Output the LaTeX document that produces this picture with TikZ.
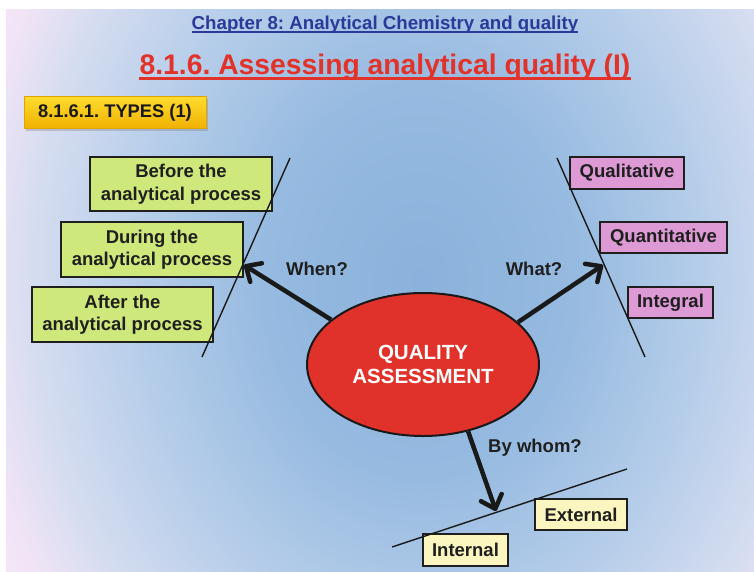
\documentclass[tikz,border=0pt]{standalone}
\usepackage{fontspec}
\setmainfont{Liberation Sans}
\usetikzlibrary{arrows.meta,shapes.geometric,shadows}
\definecolor{bgA}{HTML}{8BB2DC}
\definecolor{bgB}{HTML}{96BAE0}
\definecolor{bgC}{HTML}{B7CEEA}
\definecolor{bgD}{HTML}{D4DCF0}
\definecolor{bgE}{HTML}{F1E4F6}
\definecolor{bgF}{HTML}{F6E6F7}
\definecolor{chapblue}{HTML}{2B3A98}
\definecolor{titlered}{HTML}{E2332A}
\definecolor{ellred}{HTML}{E0322A}
\definecolor{boxgreen}{HTML}{CFE87C}
\definecolor{boxpink}{HTML}{DD9AD5}
\definecolor{boxyellow}{HTML}{FBF6C0}
\definecolor{goldtop}{HTML}{FCDC2E}
\definecolor{goldbot}{HTML}{F0B000}
\definecolor{goldedge}{HTML}{E2A400}
\pgfdeclareradialshading{bgshade}{\pgfpoint{0bp}{0bp}}{color(0bp)=(bgA); color(8bp)=(bgB); color(15bp)=(bgC); color(20bp)=(bgD); color(23.5bp)=(bgE); color(25bp)=(bgF); color(50bp)=(bgF)}
\frenchspacing
\begin{document}
\begin{tikzpicture}[x=1pt,y=-1pt,
  lbl/.style={font=\bfseries\fontsize{18.5}{22.5}\selectfont, text=black!88, inner sep=0pt, align=center},
  catbox/.style={lbl, draw=black!88, line width=1.6pt},
  greenbox/.style={catbox, fill=boxgreen},
  pinkbox/.style={catbox, fill=boxpink},
  yellowbox/.style={catbox, fill=boxyellow},
  axisline/.style={line width=1.4pt, black!90},
  arr/.style={line width=4.5pt, black!90, -{Straight Barb[length=12pt,width=22pt,line width=4.5pt,round]}},
  qlabel/.style={lbl, anchor=base}
]
\useasboundingbox (0,0) rectangle (754,572);
\fill[white] (0,0) rectangle (754,572);
\begin{scope}
  \clip (6,10) rectangle (754,572);
  \shade[shading=bgshade] (-60,-320) rectangle (900,880);
\end{scope}

% headings
\node[anchor=base, inner sep=0pt, text=chapblue, font=\bfseries\fontsize{18.7}{22}\selectfont] (chap) at (385,29.5) {Chapter 8: Analytical Chemistry and quality};
\draw[chapblue, line width=1.5pt] ([yshift=-2.5pt]chap.base west) -- ([yshift=-2.5pt]chap.base east);
\node[anchor=base, inner sep=0pt, text=titlered, font=\bfseries\fontsize{28.3}{34}\selectfont] (title) at (385,75) {8.1.6. Assessing analytical quality (I)};
\draw[titlered, line width=2.6pt] ([yshift=-3.5pt]title.base west) -- ([yshift=-3.5pt]title.base east);

\node[draw=goldedge, line width=1pt, top color=goldtop, bottom color=goldbot, minimum width=182pt, minimum height=32pt, inner sep=0pt,
      drop shadow={shadow xshift=2pt, shadow yshift=-2pt, opacity=0.35},
      font=\bfseries\fontsize{18.3}{22}\selectfont, text=black!90] (types) at (115,113) {8.1.6.1. TYPES (1)};

% central ellipse
\node[ellipse, draw=black!90, line width=2pt, fill=ellred, minimum width=232pt, minimum height=143pt, inner sep=0pt,
      align=center, text=white, font=\bfseries\fontsize{20.5}{24.5}\selectfont] (q) at (423,364.5) {QUALITY\\ASSESSMENT};

% When? boxes
\node[greenbox, minimum width=182pt, minimum height=54pt] (before) at (181,184) {Before the\\analytical process};
\node[greenbox, minimum width=182pt, minimum height=55pt] (during) at (152,249.5) {During the\\analytical process};
\node[greenbox, minimum width=181pt, minimum height=55pt] (after) at (122.5,314.5) {After the\\analytical process};

% What? boxes
\node[pinkbox, minimum width=114pt, minimum height=32pt] (qual) at (627,173) {Qualitative};
\node[pinkbox, minimum width=127pt, minimum height=31pt] (quant) at (663.5,237.5) {Quantitative};
\node[pinkbox, minimum width=85pt, minimum height=31pt] (integ) at (670.5,302.5) {Integral};

% By whom? boxes
\node[yellowbox, minimum width=92pt, minimum height=31pt] (ext) at (581,514.5) {External};
\node[yellowbox, minimum width=85pt, minimum height=32pt] (int) at (465.5,550) {Internal};

% axis lines
\coordinate (lt) at (290,158);
\coordinate (lb) at (202,357);
\coordinate (rt) at (557,158);
\coordinate (rb) at (645,357);
\coordinate (bl) at (392,547);
\coordinate (br) at (627,469);
\draw[axisline] (lt) -- (lb);
\draw[axisline] (rt) -- (rb);
\draw[axisline] (bl) -- (br);

% arrows
\coordinate (tipL) at (244,265);
\coordinate (tipR) at (603,265);
\coordinate (tipB) at (496,511);
\draw[arr] (q.154) -- (tipL);
\draw[arr] (q.24) -- (tipR);
\draw[arr] (q.-56) -- (tipB);

\node[qlabel] (when) at (317,275) {When?};
\node[qlabel] (what) at (534,275) {What?};
\node[qlabel] (whom) at (535,452) {By whom?};
\end{tikzpicture}
\end{document}
